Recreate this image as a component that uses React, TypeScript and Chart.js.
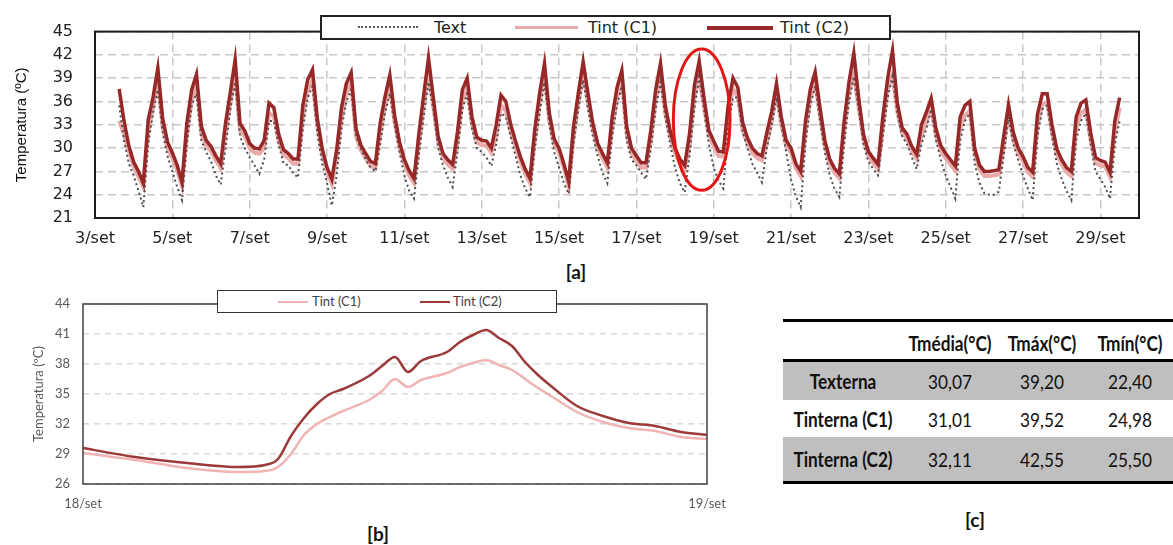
import React, { useEffect, useRef } from "react";
import { Chart, registerables } from "chart.js";

Chart.register(...registerables);

// ---------- [a] monthly series (3-hourly readings starting 3/set 15h) ----------
const dayTickLabels = ["3/set", "5/set", "7/set", "9/set", "11/set", "13/set", "15/set", "17/set", "19/set", "21/set", "23/set", "25/set", "27/set", "29/set"];
const seriesNames = ["Text", "Tint (C1)", "Tint (C2)"];
const startHour = 15;
const stepHours = 3;

const tC2 = [
  37.6, 33.5, 30.3,
  28.2, 27.0, 25.5, 33.6, 36.5, 40.3, 33.8, 30.8,
  29.4, 27.8, 25.6, 33.2, 37.5, 39.5, 32.8, 31.0,
  30.2, 29.0, 28.0, 33.2, 37.2, 41.4, 33.2, 32.2,
  30.6, 30.0, 29.9, 31.0, 35.8, 35.2, 31.8, 29.8,
  29.3, 28.6, 28.6, 35.5, 38.8, 40.1, 33.8, 30.0,
  27.5, 26.0, 29.8, 35.2, 38.3, 39.7, 32.5, 30.4,
  29.3, 28.3, 28.0, 33.2, 36.6, 39.4, 34.2, 30.8,
  28.5, 27.1, 26.1, 31.8, 36.8, 41.6, 36.5, 31.5,
  29.3, 28.5, 27.9, 32.1, 37.5, 39.0, 34.0, 31.4,
  31.0, 30.9, 30.0, 33.0, 36.8, 36.0, 33.1, 30.9,
  28.9, 27.3, 26.1, 32.5, 37.1, 40.9, 34.5, 31.2,
  30.0, 28.0, 25.7, 32.8, 37.1, 41.1, 37.0, 33.2,
  30.6, 29.3, 28.1, 34.0, 37.8, 40.0, 32.8, 30.0,
  29.0, 28.1, 28.1, 32.3, 37.5, 40.9, 35.5, 32.2,
  30.0, 28.6, 27.8, 31.8, 38.0, 41.2, 36.5, 32.3,
  30.9, 29.6, 29.5, 35.5, 39.0, 37.8, 33.3, 31.3,
  30.0, 29.3, 29.0, 32.0, 34.7, 38.3, 34.0, 31.0,
  30.0, 28.0, 27.0, 33.5, 37.6, 39.8, 35.2, 31.0,
  28.6, 27.4, 26.7, 33.5, 38.5, 42.2, 36.5, 31.8,
  29.6, 28.7, 27.9, 34.0, 39.0, 42.55, 35.8, 32.6,
  31.8, 30.2, 29.2, 33.0, 34.6, 36.4, 32.5, 30.3,
  29.3, 28.5, 27.7, 34.0, 35.5, 36.0, 30.0, 27.8,
  27.0, 27.0, 27.1, 27.2, 31.5, 35.6, 32.0, 30.0,
  28.9, 27.5, 26.9, 34.4, 37.0, 37.0, 33.0, 29.9,
  28.5, 27.5, 27.0, 34.0, 35.8, 36.2, 32.0, 28.8,
  28.4, 28.2, 26.9, 33.5, 36.5,
];

const tC1 = [
  33.5, 31.8, 29.6,
  27.6, 26.3, 25.0, 32.0, 35.2, 38.8, 32.7, 30.1,
  28.7, 27.1, 25.1, 31.6, 36.1, 38.3, 31.8, 30.3,
  29.6, 28.4, 27.4, 31.7, 35.8, 39.5, 32.2, 31.5,
  30.0, 29.4, 29.3, 30.0, 34.5, 34.1, 30.9, 29.1,
  28.7, 28.0, 28.0, 33.9, 37.4, 38.8, 32.8, 29.3,
  26.9, 25.4, 28.6, 33.7, 37.0, 38.5, 31.5, 29.7,
  28.7, 27.7, 27.4, 31.7, 35.3, 38.2, 33.2, 30.1,
  27.9, 26.5, 25.5, 30.3, 35.4, 39.5, 35.3, 30.8,
  28.7, 27.9, 27.3, 30.6, 36.1, 37.8, 33.0, 30.7,
  30.4, 30.3, 29.4, 31.5, 35.5, 34.8, 32.1, 30.2,
  28.3, 26.7, 25.5, 31.0, 35.8, 39.4, 33.5, 30.5,
  29.4, 27.4, 25.1, 31.3, 35.8, 39.4, 35.9, 32.5,
  30.0, 28.7, 27.5, 32.5, 36.5, 38.8, 31.8, 29.3,
  28.4, 27.5, 27.5, 30.8, 36.2, 39.3, 34.4, 31.5,
  29.4, 28.0, 27.2, 30.3, 36.6, 39.0, 35.3, 31.6,
  30.3, 29.0, 28.9, 34.0, 37.7, 36.6, 32.3, 30.6,
  29.4, 28.7, 28.4, 30.5, 33.4, 37.1, 33.0, 30.3,
  29.4, 27.4, 26.4, 32.0, 36.3, 38.6, 34.1, 30.3,
  28.0, 26.8, 26.1, 32.0, 37.2, 39.5, 35.2, 31.1,
  29.0, 28.1, 27.3, 32.5, 37.6, 39.5, 34.6, 31.9,
  31.2, 29.6, 28.6, 31.5, 33.3, 35.2, 31.5, 29.6,
  28.7, 27.9, 27.1, 32.5, 34.2, 34.8, 29.4, 27.2,
  26.4, 26.4, 26.5, 26.6, 30.0, 34.4, 31.0, 29.3,
  28.3, 26.9, 26.3, 32.9, 35.7, 35.8, 32.0, 29.2,
  27.9, 26.9, 26.4, 32.5, 34.5, 35.0, 31.0, 28.1,
  27.8, 27.6, 26.3, 32.0, 35.2,
];

const tExt = [
  35.5, 31.0, 28.0,
  26.5, 24.5, 22.4, 30.5, 34.5, 37.5, 32.0, 29.0,
  27.0, 25.0, 23.3, 30.5, 35.5, 37.0, 31.0, 29.5,
  28.3, 26.5, 25.3, 30.0, 35.0, 38.5, 31.5, 30.0,
  28.8, 27.8, 26.7, 28.5, 33.5, 33.5, 30.5, 28.0,
  27.8, 26.8, 26.2, 32.5, 36.5, 38.0, 32.0, 28.0,
  25.5, 22.6, 26.5, 32.5, 36.0, 37.5, 31.5, 30.0,
  28.5, 27.5, 27.0, 30.5, 34.5, 37.0, 33.0, 29.5,
  26.5, 24.5, 23.5, 29.0, 34.0, 38.5, 35.0, 30.0,
  27.8, 26.2, 25.0, 29.5, 35.0, 37.0, 32.5, 30.0,
  29.5, 28.8, 27.7, 30.5, 34.5, 34.0, 31.5, 29.0,
  26.5, 24.8, 23.7, 30.0, 34.5, 38.5, 33.0, 29.5,
  27.5, 25.5, 24.1, 30.5, 35.0, 38.8, 35.0, 31.5,
  29.0, 26.8, 25.5, 31.5, 35.5, 38.0, 31.0, 28.5,
  27.8, 26.8, 26.0, 30.0, 35.0, 38.5, 34.0, 30.5,
  27.5, 25.5, 24.3, 29.0, 35.0, 39.2, 35.0, 30.5,
  27.5, 25.8, 24.8, 32.5, 36.5, 36.5, 32.0, 30.0,
  28.0, 26.8, 25.6, 30.0, 33.0, 36.5, 33.0, 29.5,
  26.0, 23.8, 22.4, 30.5, 35.5, 38.0, 33.5, 29.5,
  26.5, 24.8, 23.7, 30.5, 36.0, 39.2, 35.0, 30.5,
  28.3, 27.3, 26.5, 31.5, 36.5, 39.2, 34.5, 31.5,
  30.5, 28.8, 27.3, 30.5, 32.5, 35.0, 31.0, 28.5,
  26.5, 25.0, 23.5, 31.0, 33.5, 34.5, 28.0, 25.5,
  24.2, 24.0, 24.0, 24.4, 29.0, 34.0, 30.5, 28.5,
  26.5, 24.8, 23.3, 31.5, 35.0, 35.5, 31.5, 28.0,
  26.0, 24.5, 23.3, 31.0, 33.5, 34.5, 30.5, 27.0,
  26.0, 25.0, 23.5, 30.5, 33.5,
];

// ---------- [b] one day, 18/set ----------
const bTickLabels = ["18/set", "19/set"];
const bHours = [0, 2, 4, 6, 7, 7.5, 8, 8.5, 9, 9.5, 10, 11, 11.5, 12, 12.5, 13, 14, 14.5, 15, 15.5, 16, 16.5, 17, 17.5, 18, 19, 20, 21, 22, 23, 24];
const bC2 = [29.6, 28.7, 28.1, 27.7, 27.9, 28.5, 30.8, 32.6, 34.0, 35.0, 35.5, 36.8, 37.8, 38.7, 37.2, 38.3, 39.2, 40.2, 40.9, 41.4, 40.6, 39.8, 38.2, 36.9, 35.8, 33.8, 32.8, 32.1, 31.8, 31.2, 30.9];
const bC1 = [29.1, 28.4, 27.6, 27.2, 27.3, 27.7, 29.0, 30.9, 32.0, 32.7, 33.3, 34.4, 35.3, 36.5, 35.7, 36.4, 37.1, 37.7, 38.1, 38.4, 37.9, 37.4, 36.5, 35.6, 34.8, 33.2, 32.2, 31.6, 31.3, 30.7, 30.5];

// ---------- [c] table ----------
const tableCols = ["Tmédia(°C)", "Tmáx(°C)", "Tmín(°C)"];
const tableRows = ["Texterna", "Tinterna (C1)", "Tinterna (C2)"];
const tMean = [30.07, 31.01, 32.11];
const tMax = [39.2, 39.52, 42.55];
const tMin = [22.4, 24.98, 25.5];

const C2_COLOR = "#962828";
const C1_COLOR = "#ebaaaa";
const TEXT_COLOR = "#4d4d4d";

function framePlugin(id: string, color: string, width: number) {
  return {
    id,
    afterDatasetsDraw(chart: any) {
      const { ctx, chartArea: a } = chart;
      ctx.save();
      ctx.strokeStyle = color;
      ctx.lineWidth = width;
      ctx.strokeRect(a.left, a.top, a.right - a.left, a.bottom - a.top);
      ctx.restore();
    },
  };
}

function ChartA() {
  const ref = useRef<HTMLCanvasElement>(null);
  useEffect(() => {
    const toPts = (arr: number[]) => arr.map((v, i) => ({ x: (startHour + stepHours * i) / 24, y: v }));
    const ellipse = {
      id: "ellipseA",
      afterDatasetsDraw(chart: any) {
        const xs = chart.scales.x;
        const ys = chart.scales.y;
        const cx = xs.getPixelForValue(15.69);
        const cy = ys.getPixelForValue(33.66);
        const rx = Math.abs(xs.getPixelForValue(15.69 + 0.733) - cx);
        const ry = Math.abs(ys.getPixelForValue(33.66 + 9.1) - cy);
        const ctx = chart.ctx;
        ctx.save();
        ctx.strokeStyle = "#e51515";
        ctx.lineWidth = 3;
        ctx.beginPath();
        ctx.ellipse(cx, cy, rx, ry, 0, 0, Math.PI * 2);
        ctx.stroke();
        ctx.restore();
      },
    };
    const tickFont = { family: "'DejaVu Sans', sans-serif", size: 16 };
    const chart = new Chart(ref.current as HTMLCanvasElement, {
      type: "line",
      data: {
        datasets: [
          { label: seriesNames[2], data: toPts(tC2), borderColor: C2_COLOR, borderWidth: 3.5, pointRadius: 0, order: 0, tension: 0 },
          { label: seriesNames[0], data: toPts(tExt), borderColor: TEXT_COLOR, borderWidth: 2, borderDash: [2, 3], pointRadius: 0, order: 1, tension: 0 },
          { label: seriesNames[1], data: toPts(tC1), borderColor: C1_COLOR, borderWidth: 4, pointRadius: 0, order: 2, tension: 0 },
        ],
      },
      options: {
        animation: false,
        responsive: false,
        layout: { padding: { left: 6, top: 29, right: 34, bottom: 0 } },
        plugins: { legend: { display: false }, tooltip: { enabled: false } },
        scales: {
          x: {
            type: "linear",
            min: 0,
            max: 27,
            ticks: {
              stepSize: 2,
              includeBounds: false,
              autoSkip: false,
              maxRotation: 0,
              padding: 11,
              color: "#222",
              font: tickFont,
              callback: (v: any) => dayTickLabels[Math.round(Number(v) / 2)] ?? "",
            },
            grid: { color: "#c8c8c8", lineWidth: 1.5, drawTicks: false },
            border: { display: false, dash: [8, 5] },
            afterFit: (s: any) => {
              s.height = 256 - 218;
            },
          },
          y: {
            min: 21,
            max: 45,
            ticks: { stepSize: 3, padding: 22, color: "#222", font: tickFont },
            grid: { color: "#c8c8c8", lineWidth: 1.5, drawTicks: false },
            border: { display: false, dash: [8, 5] },
            title: {
              display: true,
              text: "Temperatura (ºC)",
              color: "#111",
              font: { family: "'Liberation Sans', Arial, sans-serif", size: 15 },
              padding: { top: 7, bottom: 0 },
            },
            afterFit: (s: any) => {
              s.width = 95 - 6;
            },
          },
        },
      },
      plugins: [framePlugin("frameA", "#1a1a1a", 2), ellipse],
    } as any);
    return () => chart.destroy();
  }, []);
  return <canvas ref={ref} width={1173} height={256} style={{ position: "absolute", left: 0, top: 0 }} />;
}

function ChartB() {
  const ref = useRef<HTMLCanvasElement>(null);
  useEffect(() => {
    const toPts = (arr: number[]) => arr.map((v, i) => ({ x: bHours[i], y: v }));
    const font = { family: "Lato, 'Liberation Sans', sans-serif", size: 13 };
    const chart = new Chart(ref.current as HTMLCanvasElement, {
      type: "line",
      data: {
        datasets: [
          { label: seriesNames[2], data: toPts(bC2), borderColor: "#9c3a3a", borderWidth: 2.5, pointRadius: 0, cubicInterpolationMode: "monotone", order: 0 },
          { label: seriesNames[1], data: toPts(bC1), borderColor: "#f0b4b4", borderWidth: 2.5, pointRadius: 0, cubicInterpolationMode: "monotone", order: 1 },
        ],
      },
      options: {
        animation: false,
        responsive: false,
        layout: { padding: { left: 20, top: 24, right: 53, bottom: 0 } },
        plugins: { legend: { display: false }, tooltip: { enabled: false } },
        scales: {
          x: {
            type: "linear",
            min: 0,
            max: 24,
            ticks: {
              stepSize: 24,
              autoSkip: false,
              maxRotation: 0,
              padding: 12,
              color: "#595959",
              font,
              callback: (v: any) => (Number(v) === 0 ? bTickLabels[0] : Number(v) === 24 ? bTickLabels[1] : ""),
            },
            grid: { display: false, drawTicks: false },
            border: { display: false },
            afterFit: (s: any) => {
              s.height = 36;
            },
          },
          y: {
            min: 26,
            max: 44,
            ticks: { stepSize: 3, padding: 13, color: "#595959", font },
            grid: { color: "#d9d9d9", lineWidth: 1.5, drawTicks: false },
            border: { display: false, dash: [6, 5] },
            title: {
              display: true,
              text: "Temperatura (ºC)",
              color: "#595959",
              font,
              padding: { top: 11, bottom: 0 },
            },
            afterFit: (s: any) => {
              s.width = 83 - 20;
            },
          },
        },
      },
      plugins: [framePlugin("frameB", "#404040", 1.5)],
    } as any);
    return () => chart.destroy();
  }, []);
  return <canvas ref={ref} width={760} height={240} style={{ position: "absolute", left: 0, top: 280 }} />;
}

const abs = (s: React.CSSProperties): React.CSSProperties => ({ position: "absolute", ...s });

function CenterText(props: { cx: number; cy: number; w: number; h: number; style?: React.CSSProperties; children: React.ReactNode }) {
  const { cx, cy, w, h, style, children } = props;
  return (
    <div style={abs({ left: cx - w / 2, top: cy - h / 2, width: w, height: h, lineHeight: h + "px", textAlign: "center", whiteSpace: "nowrap", ...style })}>
      {children}
    </div>
  );
}

function Table() {
  const fmt = (v: number) => v.toFixed(2).replace(".", ",");
  const base: React.CSSProperties = { fontFamily: "Lato, 'Liberation Sans', sans-serif", fontSize: 20, color: "#111", transform: "scaleX(0.86)" };
  const bold: React.CSSProperties = { ...base, fontWeight: 700 };
  const colCenters = [843, 950, 1042, 1130];
  const rowTops = [362, 400, 437];
  const rowBottoms = [400, 437, 481];
  const rowBg = ["#bfbfbf", "#ffffff", "#bfbfbf"];
  const values = [tMean, tMax, tMin];
  return (
    <>
      <div style={abs({ left: 783, top: 319, width: 390, height: 3, background: "#000" })} />
      {tableCols.map((c, j) => (
        <CenterText key={c} cx={colCenters[j + 1]} cy={343} w={120} h={30} style={bold}>
          {c}
        </CenterText>
      ))}
      <div style={abs({ left: 783, top: 359, width: 390, height: 3, background: "#000" })} />
      {tableRows.map((r, i) => (
        <div key={r}>
          <div style={abs({ left: 783, top: rowTops[i], width: 390, height: rowBottoms[i] - rowTops[i], background: rowBg[i] })} />
          <CenterText cx={colCenters[0]} cy={(rowTops[i] + rowBottoms[i]) / 2} w={140} h={30} style={bold}>
            {r}
          </CenterText>
          {values.map((arr, j) => (
            <CenterText key={j} cx={colCenters[j + 1]} cy={(rowTops[i] + rowBottoms[i]) / 2} w={100} h={30} style={base}>
              {fmt(arr[i])}
            </CenterText>
          ))}
        </div>
      ))}
      <div style={abs({ left: 783, top: 481, width: 390, height: 3, background: "#000" })} />
    </>
  );
}

export default function App() {
  const legA = { fontFamily: "'DejaVu Sans', sans-serif", fontSize: 16, color: "#222" };
  const legB = { fontFamily: "Lato, 'Liberation Sans', sans-serif", fontSize: 13, color: "#404040" };
  const panelLabel = { fontFamily: "Lato, 'Liberation Sans', sans-serif", fontWeight: 700, fontSize: 19, color: "#111" };
  return (
    <div style={{ position: "fixed", left: 0, top: 0, width: 1173, height: 545, background: "#fff", overflow: "hidden" }}>
      <ChartA />
      {/* legend [a] */}
      <div style={abs({ left: 320, top: 15, width: 571, height: 25, boxSizing: "border-box", border: "2px solid #222", background: "#fff" })} />
      <div style={abs({ left: 358, top: 26, width: 60, height: 0, borderTop: "2.5px dotted #555" })} />
      <div style={abs({ left: 434, top: 15, height: 25, lineHeight: "25px", whiteSpace: "nowrap", ...legA })}>{seriesNames[0]}</div>
      <div style={abs({ left: 515, top: 26, width: 63, height: 3, background: C1_COLOR })} />
      <div style={abs({ left: 588, top: 15, height: 25, lineHeight: "25px", whiteSpace: "nowrap", ...legA })}>{seriesNames[1]}</div>
      <div style={abs({ left: 707, top: 25.5, width: 66, height: 4, background: C2_COLOR })} />
      <div style={abs({ left: 780, top: 15, height: 25, lineHeight: "25px", whiteSpace: "nowrap", ...legA })}>{seriesNames[2]}</div>

      <CenterText cx={576} cy={272} w={40} h={24} style={panelLabel}>[a]</CenterText>

      <ChartB />
      {/* legend [b] */}
      <div style={abs({ left: 217, top: 290, width: 340, height: 23, boxSizing: "border-box", border: "1.5px solid #333", background: "#fff" })} />
      <div style={abs({ left: 278, top: 300.5, width: 30, height: 2.5, background: "#f0b4b4" })} />
      <div style={abs({ left: 312, top: 290, height: 23, lineHeight: "23px", whiteSpace: "nowrap", ...legB })}>{seriesNames[1]}</div>
      <div style={abs({ left: 420, top: 300.5, width: 30, height: 2.5, background: "#9c3a3a" })} />
      <div style={abs({ left: 453, top: 290, height: 23, lineHeight: "23px", whiteSpace: "nowrap", ...legB })}>{seriesNames[2]}</div>

      <CenterText cx={378} cy={534} w={40} h={24} style={panelLabel}>[b]</CenterText>

      <Table />
      <CenterText cx={975} cy={520} w={40} h={24} style={panelLabel}>[c]</CenterText>
    </div>
  );
}
